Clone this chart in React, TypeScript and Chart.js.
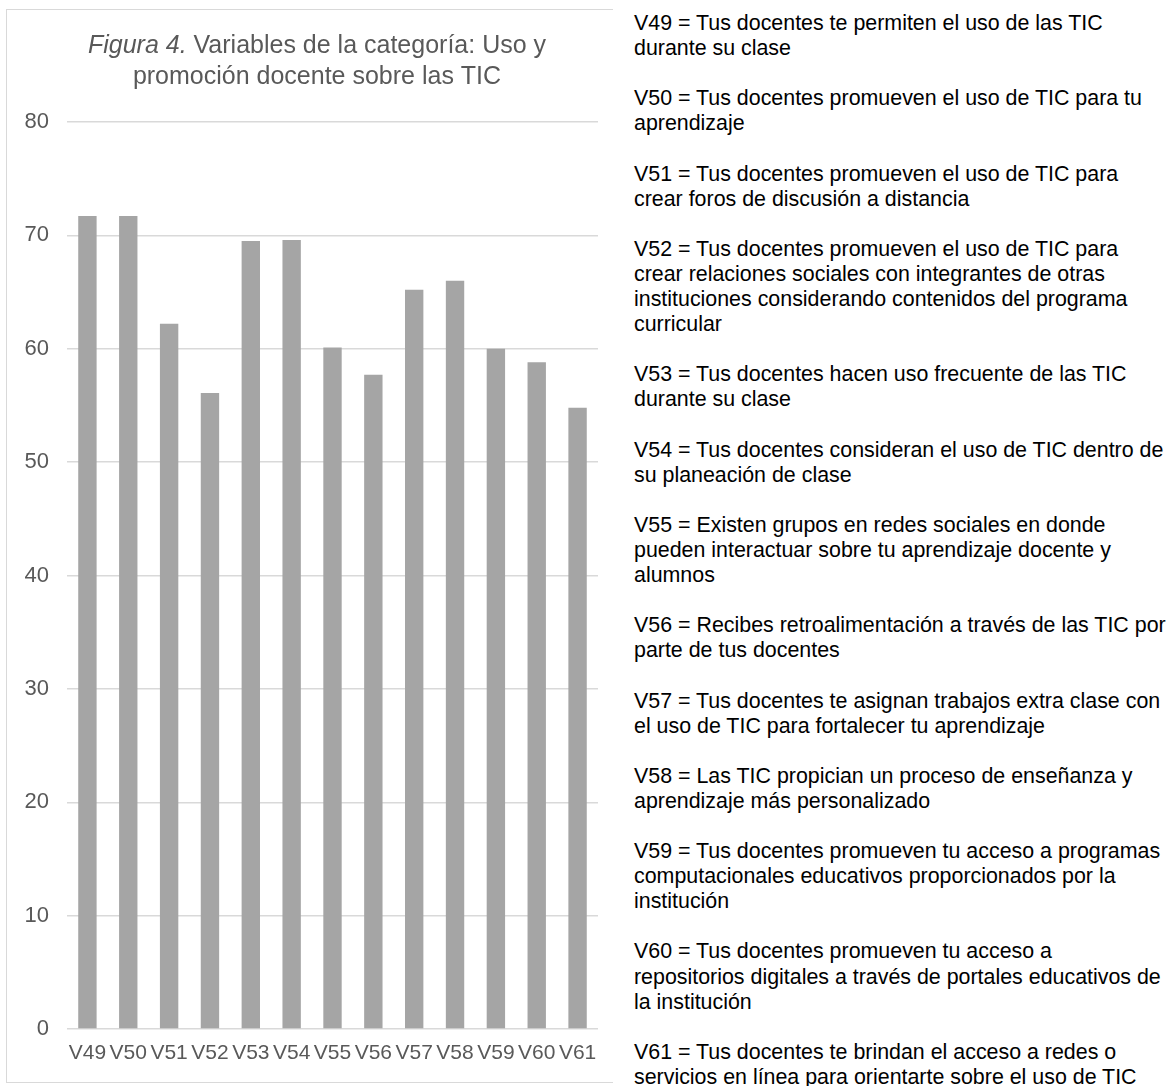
import React, { useEffect, useRef } from "react";
import { Chart, registerables } from "chart.js";

Chart.register(...registerables);

const categories = ["V49", "V50", "V51", "V52", "V53", "V54", "V55", "V56", "V57", "V58", "V59", "V60", "V61"];
const values = [71.7, 71.7, 62.2, 56.1, 69.5, 69.6, 60.1, 57.7, 65.2, 66.0, 60.0, 58.8, 54.8];
const yTickMax = 80;
const yTickStep = 10;
const titleItalic = "Figura 4.";
const titleLine1Rest = " Variables de la categoría: Uso y";
const titleLine2 = "promoción docente sobre las TIC";

const descriptions: string[][] = [
  ["V49 = Tus docentes te permiten el uso de las TIC", "durante su clase"],
  ["V50 = Tus docentes promueven el uso de TIC para tu", "aprendizaje"],
  ["V51 = Tus docentes promueven el uso de TIC para", "crear foros de discusión a distancia"],
  ["V52 = Tus docentes promueven el uso de TIC para", "crear relaciones sociales con integrantes de otras", "instituciones considerando contenidos del programa", "curricular"],
  ["V53 = Tus docentes hacen uso frecuente de las TIC", "durante su clase"],
  ["V54 = Tus docentes consideran el uso de TIC dentro de", "su planeación de clase"],
  ["V55 = Existen grupos en redes sociales en donde", "pueden interactuar sobre tu aprendizaje docente y", "alumnos"],
  ["V56 = Recibes retroalimentación a través de las TIC por", "parte de tus docentes"],
  ["V57 = Tus docentes te asignan trabajos extra clase con", "el uso de TIC para fortalecer tu aprendizaje"],
  ["V58 = Las TIC propician un proceso de enseñanza y", "aprendizaje más personalizado"],
  ["V59 = Tus docentes promueven tu acceso a programas", "computacionales educativos proporcionados por la", "institución"],
  ["V60 = Tus docentes promueven tu acceso a", "repositorios digitales a través de portales educativos de", "la institución"],
  ["V61 = Tus docentes te brindan el acceso a redes o", "servicios en línea para orientarte sobre el uso de TIC"],
];

const FONT = "'Liberation Sans', Arial, Helvetica, sans-serif";
const GREY_TEXT = "#595959";

const titlePlugin = {
  id: "mixedTitle",
  afterDraw(chart: any) {
    const ctx = chart.ctx as CanvasRenderingContext2D;
    const cx = chart.width / 2;
    ctx.save();
    ctx.fillStyle = GREY_TEXT;
    ctx.textBaseline = "alphabetic";
    ctx.textAlign = "left";
    const italicFont = `italic 25px ${FONT}`;
    const normalFont = `25px ${FONT}`;
    ctx.font = italicFont;
    const w1 = ctx.measureText(titleItalic).width;
    ctx.font = normalFont;
    const w2 = ctx.measureText(titleLine1Rest).width;
    const startX = cx - (w1 + w2) / 2;
    ctx.font = italicFont;
    ctx.fillText(titleItalic, startX, 53);
    ctx.font = normalFont;
    ctx.fillText(titleLine1Rest, startX + w1, 53);
    ctx.textAlign = "center";
    ctx.fillText(titleLine2, cx, 84);
    ctx.restore();
  },
};

function BarChart() {
  const ref = useRef<HTMLCanvasElement | null>(null);
  useEffect(() => {
    if (!ref.current) return;
    const chart = new Chart(ref.current, {
      type: "bar",
      data: {
        labels: categories,
        datasets: [
          {
            data: values,
            backgroundColor: "#a5a5a5",
            borderWidth: 0,
            barPercentage: 0.45,
            categoryPercentage: 1,
          },
        ],
      },
      options: {
        animation: false,
        responsive: false,
        maintainAspectRatio: false,
        events: [],
        layout: { padding: { top: 122, left: 0, right: 30, bottom: 0 } },
        plugins: {
          legend: { display: false },
          tooltip: { enabled: false },
          title: { display: false },
        },
        scales: {
          x: {
            grid: { display: false, drawTicks: false },
            border: { display: false },
            ticks: {
              color: GREY_TEXT,
              font: { family: FONT, size: 21 },
              padding: 12,
              maxRotation: 0,
              minRotation: 0,
              autoSkip: false,
            },
            afterFit: (s: any) => {
              s.height = 57;
            },
          },
          y: {
            min: 0,
            max: yTickMax,
            grid: { color: "#d9d9d9", lineWidth: 1.5, drawTicks: false },
            border: { display: false },
            ticks: {
              stepSize: yTickStep,
              color: GREY_TEXT,
              font: { family: FONT, size: 22 },
              padding: 18,
            },
            afterFit: (s: any) => {
              s.width = 61;
            },
          },
        },
      },
      plugins: [titlePlugin],
    });
    return () => chart.destroy();
  }, []);
  return (
    <canvas
      ref={ref}
      width={622}
      height={1086}
      style={{ position: "absolute", left: 6, top: 0, width: 622, height: 1086 }}
    />
  );
}

export default function App() {
  return (
    <div
      style={{
        position: "absolute",
        left: 0,
        top: 0,
        width: 1167,
        height: 1086,
        overflow: "hidden",
        background: "#ffffff",
      }}
    >
      <div
        style={{
          position: "absolute",
          left: 6,
          top: 9,
          width: 640,
          height: 1074,
          border: "1px solid #d9d9d9",
          boxSizing: "border-box",
        }}
      />
      <BarChart />
      <div
        style={{
          position: "absolute",
          left: 613,
          top: 0,
          width: 554,
          height: 1086,
          background: "#ffffff",
        }}
      >
        <div
          style={{
            position: "absolute",
            left: 21,
            top: 11,
            fontFamily: FONT,
            fontSize: "21.4px",
            lineHeight: "25.1px",
            color: "#000000",
            whiteSpace: "nowrap",
          }}
        >
          {descriptions.map((lines, i) => (
            <div key={i} style={{ marginBottom: i < descriptions.length - 1 ? "25.1px" : 0 }}>
              {lines.map((ln, j) => (
                <div key={j}>{ln}</div>
              ))}
            </div>
          ))}
        </div>
      </div>
    </div>
  );
}
